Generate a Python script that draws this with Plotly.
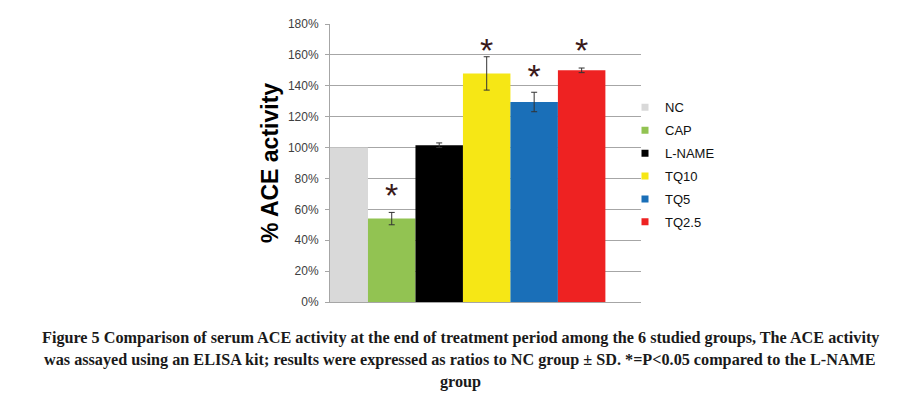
import plotly.graph_objects as go

groups = ["NC", "CAP", "L-NAME", "TQ10", "TQ5", "TQ2.5"]
activity = [100, 54, 101.5, 148, 129.5, 150]
sd = [0, 4, 1.5, 10.8, 6.3, 1.5]
significant = [False, True, False, True, True, True]
star_y = [None, 67, None, 161, 144, 161]
colors = ["#d9d9d9", "#92c352", "#000000", "#f6e715", "#1a6fb8", "#ee2222"]
y_ticks = [0, 20, 40, 60, 80, 100, 120, 140, 160, 180]
y_tick_labels = [f"{v}%" for v in y_ticks]

caption_lines = [
    "Figure 5 Comparison of serum ACE activity at the end of treatment period among the 6 studied groups, The ACE activity",
    "was assayed using an ELISA kit; results were expressed as ratios to NC group \u00b1 SD. *=P<0.05 compared to the L-NAME",
    "group",
]

# page body has an 8px margin: figure is offset by (8, 8)
OFF = 8
L, T = 330 - OFF, 24 - OFF
PW, PH = 311, 278

fig = go.Figure()
for i, (g, v, e, c) in enumerate(zip(groups, activity, sd, colors)):
    fig.add_trace(go.Bar(
        x=[i], y=[v], width=1, name=g, legendgroup=g,
        marker=dict(color=c, line=dict(width=0)),
        error_y=dict(type="data", array=[e], visible=e > 0, color="#333333", thickness=1, width=3),
        showlegend=False,
    ))
    fig.add_trace(go.Scatter(
        x=[None], y=[None], mode="markers", name=g, legendgroup=g,
        marker=dict(symbol="square", size=7, color=c),
    ))

sx = [i for i, s in enumerate(significant) if s]
sy = [star_y[i] for i in sx]
fig.add_trace(go.Scatter(
    x=sx, y=sy, mode="text", text=["*"] * len(sx), showlegend=False,
    textfont=dict(family="Liberation Sans", size=34, color="#3a1a1a"),
    textposition="middle center", hoverinfo="skip",
))

for k, line in enumerate(caption_lines):
    fig.add_annotation(
        text=line, xref="paper", yref="paper",
        x=(460 - 330) / PW, y=-(338 + 22 * k - 301.7) / PH,
        xanchor="center", yanchor="middle", showarrow=False,
        font=dict(family="Liberation Serif", size=16.2, color="#1a1a1a", weight="bold"),
    )

fig.update_layout(
    width=907 - OFF, height=395 - OFF,
    margin=dict(l=L, r=907 - OFF - L - PW, t=T, b=395 - OFF - T - PH),
    paper_bgcolor="white", plot_bgcolor="white",
    barmode="overlay",
    font=dict(family="Liberation Sans", size=12, color="#404040"),
    legend=dict(x=1.0 - 16 / PW, xanchor="left", y=0.754, yanchor="top", tracegroupgap=3,
                font=dict(family="Liberation Sans", size=13, color="#111111"),
                itemwidth=30, bgcolor="rgba(0,0,0,0)"),
    showlegend=True,
)
fig.update_xaxes(range=[-0.3, 6.25], showticklabels=False, showgrid=False, zeroline=False,
                 showline=True, linecolor="#a6a6a6", linewidth=1, ticks="")
fig.update_yaxes(range=[0, 180], tickvals=y_ticks, ticktext=y_tick_labels,
                 showgrid=True, gridcolor="#a6a6a6", gridwidth=1, zeroline=False,
                 showline=True, linecolor="#a6a6a6", linewidth=1,
                 ticks="outside", ticklen=4, tickcolor="#a6a6a6", ticklabelstandoff=4,
                 tickfont=dict(family="Liberation Sans", size=12, color="#404040"),
                 title=dict(text="% ACE activity", standoff=2,
                            font=dict(family="Liberation Sans", size=23, color="#000000", weight="bold")),
                 automargin=False)

fig.write_html("out.html")
